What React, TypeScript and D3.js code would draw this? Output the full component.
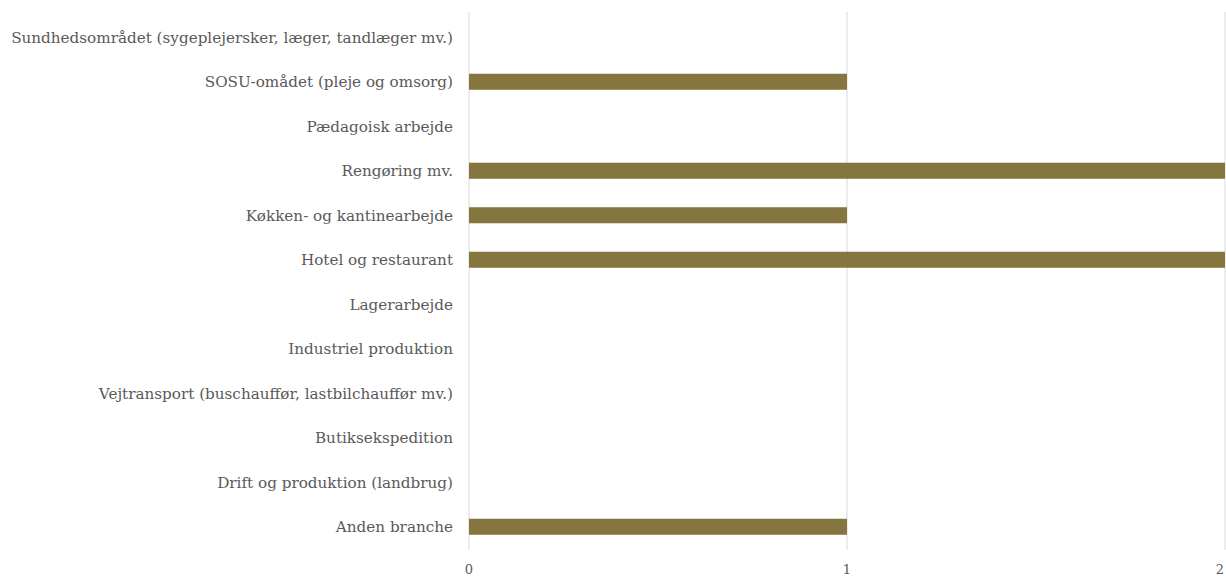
import React from 'react';
import * as d3 from 'd3';

const WIDTH = 1226;
const HEIGHT = 578;

const categories = [
  'Sundhedsområdet (sygeplejersker, læger, tandlæger mv.)',
  'SOSU-omådet (pleje og omsorg)',
  'Pædagoisk arbejde',
  'Rengøring mv.',
  'Køkken- og kantinearbejde',
  'Hotel og restaurant',
  'Lagerarbejde',
  'Industriel produktion',
  'Vejtransport (buschauffør, lastbilchauffør mv.)',
  'Butiksekspedition',
  'Drift og produktion (landbrug)',
  'Anden branche',
];
const values = [0, 1, 0, 2, 1, 2, 0, 0, 0, 0, 0, 1];
const ticks = [0, 1, 2];

const margin = { top: 15, right: 1, bottom: 29, left: 469 };
const BAR_COLOR = '#85753f';
const TEXT_COLOR = '#595959';
const GRID_COLOR = '#d9d9d9';
const FONT = '"DejaVu Serif", Georgia, serif';

export default function App() {
  const x = d3.scaleLinear().domain([0, 2]).range([margin.left, WIDTH - margin.right]);
  const y = d3.scaleBand<string>()
    .domain(categories)
    .range([margin.top, HEIGHT - margin.bottom])
    .paddingInner(0.64)
    .paddingOuter(0.32);

  return (
    <div style={{ position: 'absolute', top: 0, left: 0 }}>
      <svg width={WIDTH} height={HEIGHT} style={{ display: 'block', background: '#fff' }}>
        <g>
          {ticks.map(t => (
            <line
              key={t}
              x1={x(t)}
              x2={x(t)}
              y1={margin.top - 3}
              y2={HEIGHT - margin.bottom + 1}
              stroke={GRID_COLOR}
              strokeWidth={1}
            />
          ))}
        </g>
        <g>
          {categories.map((c, i) => (
            values[i] > 0 ? (
              <rect
                key={c}
                x={x(0)}
                y={y(c)}
                width={x(values[i]) - x(0)}
                height={y.bandwidth()}
                fill={BAR_COLOR}
              />
            ) : null
          ))}
        </g>
        <g fontFamily={FONT} fontSize={15.2} fill={TEXT_COLOR} textAnchor="end">
          {categories.map(c => (
            <text key={c} x={margin.left - 16} y={(y(c) ?? 0) + y.bandwidth() / 2} dy="0.35em">
              {c}
            </text>
          ))}
        </g>
        <g fontFamily={FONT} fontSize={13} fill={TEXT_COLOR} textAnchor="middle">
          {ticks.map(t => (
            <text key={t} x={Math.min(x(t), WIDTH - 6)} y={HEIGHT - 4}>
              {t}
            </text>
          ))}
        </g>
      </svg>
    </div>
  );
}
